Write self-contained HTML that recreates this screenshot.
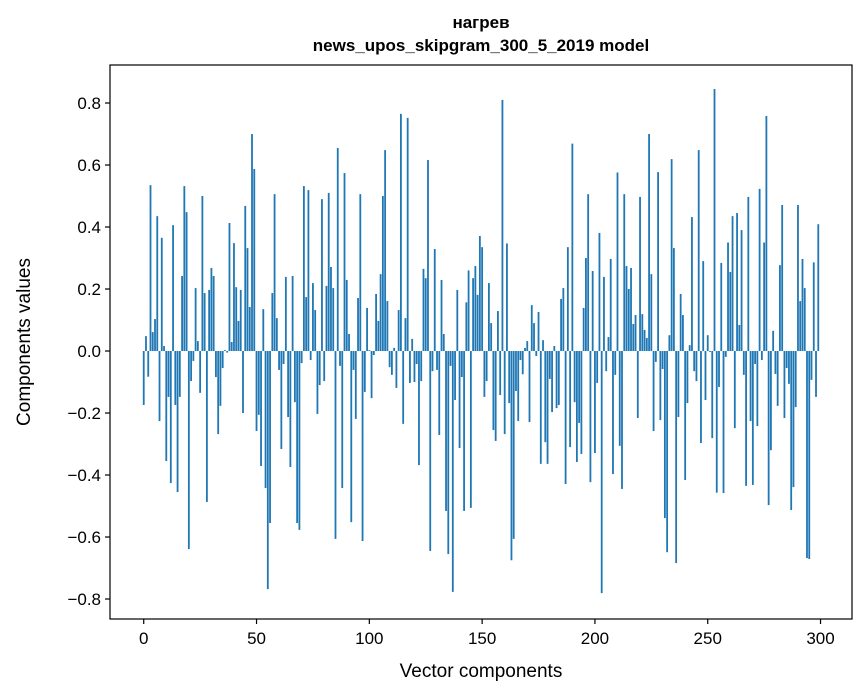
<!DOCTYPE html>
<html><head><meta charset="utf-8"><style>
body{margin:0;background:#fff;}
svg{display:block;font-family:"Liberation Sans","DejaVu Sans",sans-serif;}
</style></head><body>
<svg id="chart" width="867" height="696" viewBox="0 0 867 696">
<rect width="867" height="696" fill="#fff"/>
<text x="481" y="28" text-anchor="middle" font-size="17" font-weight="bold">нагрев</text>
<text x="481" y="51" text-anchor="middle" font-size="17" font-weight="bold">news_upos_skipgram_300_5_2019 model</text>
<g id="bars"></g>
<g id="axes"></g>
<text x="481" y="677" text-anchor="middle" font-size="19">Vector components</text>
<text x="0" y="0" transform="translate(30,342) rotate(-90)" text-anchor="middle" font-size="19">Components values</text>
</svg>
<script>
const values = [
-0.174,0.048,-0.083,0.535,0.061,0.103,0.435,-0.226,0.365,0.016,
-0.355,-0.148,-0.426,0.406,-0.174,-0.455,-0.148,0.242,0.532,0.448,
-0.639,-0.097,-0.032,0.203,0.032,-0.135,0.5,0.187,-0.487,0.197,
0.268,0.242,-0.084,-0.268,-0.177,-0.055,0.003,-0.005,0.413,0.029,
0.348,0.206,0.097,0.197,-0.2,0.468,0.332,0.142,0.7,0.587,
-0.258,-0.206,-0.371,0.135,-0.442,-0.768,-0.555,0.187,0.506,0.106,
-0.061,-0.316,-0.042,0.239,-0.213,-0.374,0.242,-0.165,-0.555,-0.577,
-0.039,0.532,0.174,0.519,-0.029,0.219,0.132,-0.203,-0.11,0.49,
-0.097,0.21,0.51,0.271,0.203,-0.606,0.655,-0.048,-0.442,0.574,
0.229,0.055,-0.552,-0.061,-0.219,0.171,0.506,-0.613,-0.132,0.139,
0.003,-0.152,-0.013,0.184,0.097,0.248,0.5,0.648,0.161,-0.052,
-0.077,0.01,-0.119,0.132,0.765,-0.235,0.106,0.752,-0.103,0.039,
-0.1,-0.042,-0.368,-0.097,0.265,0.235,0.616,-0.645,-0.065,0.329,
-0.061,-0.271,0.229,0.055,-0.516,-0.655,-0.048,-0.777,-0.158,0.197,
-0.313,-0.084,-0.516,0.157,0.26,-0.506,0.235,0.274,0.181,0.371,
0.335,-0.148,-0.097,0.219,0.09,-0.255,-0.29,0.129,-0.142,0.81,
-0.268,0.347,-0.168,-0.675,-0.606,-0.129,-0.226,-0.029,-0.075,0.01,
0.032,-0.229,0.148,0.09,-0.016,0.126,-0.364,0.035,-0.294,-0.364,
-0.09,-0.197,0.016,-0.184,-0.174,0.168,0.203,-0.429,0.335,-0.31,
0.669,-0.165,-0.358,-0.232,-0.332,0.139,0.3,0.506,-0.423,0.258,
-0.329,-0.103,0.381,-0.781,0.239,-0.065,0.045,0.297,-0.397,-0.077,
0.576,-0.306,-0.445,0.506,0.274,0.2,0.268,0.087,0.116,-0.216,
0.497,0.119,0.068,0.042,0.7,0.248,-0.258,-0.035,0.577,-0.223,
-0.058,-0.539,-0.649,0.051,0.619,0.332,-0.684,-0.213,0.184,0.116,
-0.416,-0.168,0.019,0.432,-0.065,-0.097,0.648,-0.297,0.29,-0.158,
0.051,-0.003,-0.281,0.845,-0.457,-0.116,0.284,-0.458,-0.019,0.35,
0.255,0.435,-0.249,0.445,0.084,0.39,-0.077,-0.435,0.497,-0.226,
-0.432,-0.042,-0.242,0.523,-0.029,0.35,0.758,-0.497,-0.32,0.065,
-0.074,-0.177,0.277,0.471,-0.216,-0.055,-0.106,-0.513,-0.439,-0.181,
0.471,0.161,0.297,0.203,-0.668,-0.671,-0.093,0.286,-0.148,0.409
];
const xTicks = [0,50,100,150,200,250,300];
const yTicks = [-0.8,-0.6,-0.4,-0.2,0.0,0.2,0.4,0.6,0.8];

const L=110,R=852,T=65,B=619;
const xMin=-14.95,xMax=313.95,yMin=-0.8645,yMax=0.9226;
const sx=v=>L+(v-xMin)/(xMax-xMin)*(R-L);
const sy=v=>B-(v-yMin)/(yMax-yMin)*(B-T);
const NS='http://www.w3.org/2000/svg';
const bars=document.getElementById('bars');
const axes=document.getElementById('axes');
values.forEach((v,i)=>{
  const r=document.createElementNS(NS,'rect');
  const x0=sx(i-0.4),x1=sx(i+0.4);
  const y0=sy(Math.max(v,0)),y1=sy(Math.min(v,0));
  r.setAttribute('x',x0);r.setAttribute('width',x1-x0);
  r.setAttribute('y',y0);r.setAttribute('height',Math.max(y1-y0,0.01));
  r.setAttribute('fill','#1f77b4');
  
  
  bars.appendChild(r);
});
const frame=document.createElementNS(NS,'rect');
frame.setAttribute('x',L);frame.setAttribute('y',T);
frame.setAttribute('width',R-L);frame.setAttribute('height',B-T);
frame.setAttribute('fill','none');frame.setAttribute('stroke','#000');frame.setAttribute('stroke-width','1.2');


axes.appendChild(frame);
xTicks.forEach(t=>{
  const x=sx(t);
  const l=document.createElementNS(NS,'line');
  l.setAttribute('x1',x);l.setAttribute('x2',x);l.setAttribute('y1',B);l.setAttribute('y2',B+5);
  l.setAttribute('stroke','#000');l.setAttribute('stroke-width','1.2');
  
  
  axes.appendChild(l);
  const tx=document.createElementNS(NS,'text');
  tx.setAttribute('x',x);tx.setAttribute('y',B+25);tx.setAttribute('text-anchor','middle');tx.setAttribute('font-size','17');
  tx.textContent=t;
  
  
  axes.appendChild(tx);
});
yTicks.forEach(t=>{
  const y=sy(t);
  const l=document.createElementNS(NS,'line');
  l.setAttribute('x1',L-5);l.setAttribute('x2',L);l.setAttribute('y1',y);l.setAttribute('y2',y);
  l.setAttribute('stroke','#000');l.setAttribute('stroke-width','1.2');
  
  
  axes.appendChild(l);
  const tx=document.createElementNS(NS,'text');
  tx.setAttribute('x',L-9);tx.setAttribute('y',y+6);tx.setAttribute('text-anchor','end');tx.setAttribute('font-size','17');
  tx.textContent=(t<0?'\u2212':'')+Math.abs(t).toFixed(1);
  
  
  axes.appendChild(tx);
});
</script>
</body></html>
